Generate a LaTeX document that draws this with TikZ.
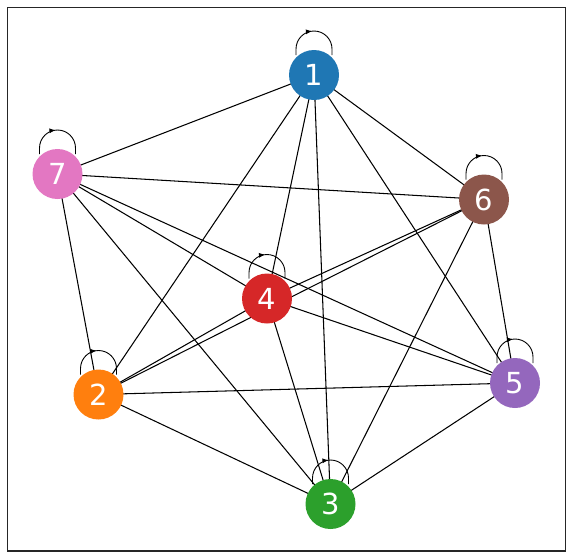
\documentclass[tikz,border=0pt]{standalone}
\usepackage{fontspec}
\setmainfont{DejaVu Sans}
\usetikzlibrary{arrows.meta,decorations.markings}
\pgfdeclarelayer{background}
\pgfsetlayers{background,main}
\definecolor{c1}{HTML}{1F77B4}
\definecolor{c2}{HTML}{FF7F0E}
\definecolor{c3}{HTML}{2CA02C}
\definecolor{c4}{HTML}{D62728}
\definecolor{c5}{HTML}{9467BD}
\definecolor{c6}{HTML}{8C564B}
\definecolor{c7}{HTML}{E377C2}
\tikzset{
  vtx/.style={circle,minimum size=50pt,inner sep=0pt,text=white,font=\fontsize{29}{29}\selectfont},
  edge/.style={line width=1.05pt,black},
  selfloop/.style={line width=0.9pt,black,postaction={decorate},
    decoration={markings,mark=at position 0.47 with {\arrow{Latex[length=6pt,width=5pt]}}}},
  frame/.style={line width=1.1pt,black!85}
}
\newcommand{\loopat}[1]{%
  \draw[selfloop] ([xshift=-18pt,yshift=20pt]#1.center) -- ++(0,6pt) arc[start angle=180,end angle=0,radius=18pt] -- ++(0,-6pt);}
\begin{document}
\begin{tikzpicture}[x=1pt,y=-1pt]
\useasboundingbox (0,0) rectangle (572,558);
\draw[frame] (7.5,7.5) rectangle (565.5,551);
\node[vtx,fill=c1] (n1) at (314,75) {1};
\node[vtx,fill=c2] (n2) at (98.5,394.5) {2};
\node[vtx,fill=c3] (n3) at (330.5,504) {3};
\node[vtx,fill=c4] (n4) at (267,298.5) {4};
\node[vtx,fill=c5] (n5) at (515,383) {5};
\node[vtx,fill=c6] (n6) at (484,199.5) {6};
\node[vtx,fill=c7] (n7) at (57.5,174) {7};
\begin{pgfonlayer}{background}
\foreach \a/\b in {1/2,1/3,1/4,1/5,1/6,1/7,2/3,2/4,2/5,2/6,2/7,3/4,3/5,3/6,3/7,4/5,4/6,4/7,5/6,5/7,6/7}{
  \draw[edge] (n\a.center) -- (n\b.center);
}
\foreach \a in {1,...,7}{\loopat{n\a}}
\end{pgfonlayer}
\end{tikzpicture}
\end{document}
